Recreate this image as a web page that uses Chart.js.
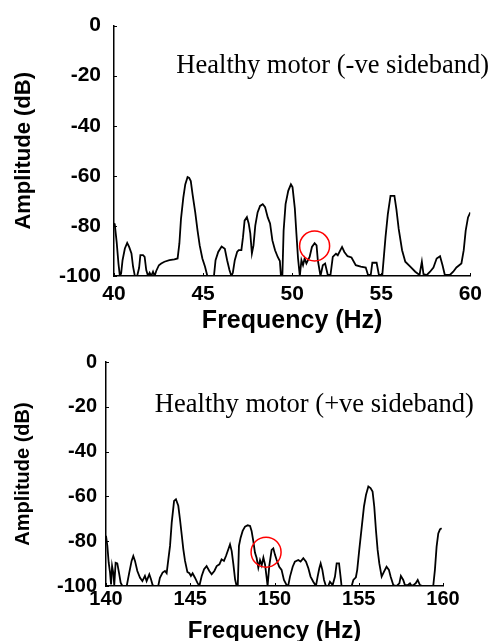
<!DOCTYPE html>
<html>
<head>
<meta charset="utf-8">
<script src="https://cdn.jsdelivr.net/npm/chart.js@4/dist/chart.umd.min.js"></script>
<style>
  html, body { margin: 0; padding: 0; background: #fff; overflow: hidden; }
  #wrap { position: relative; width: 488px; height: 641px; }
  .panel { position: absolute; left: 0; width: 488px; }
  canvas { display: block; }
</style>
</head>
<body>
<div id="wrap">
  <div class="panel" style="top:0;height:336px"><canvas id="negBand" width="488" height="336"></canvas></div>
  <div class="panel" style="top:336px;height:310px"><canvas id="posBand" width="488" height="310"></canvas></div>
</div>
<script>
// Lower sideband spectrum (40-60 Hz)
const negFreq = [40.00,40.04,40.15,40.25,40.33,40.40,40.48,40.61,40.74,40.85,40.98,41.07,41.17,41.30,41.41,41.48,41.63,41.72,41.81,41.91,
  42.00,42.09,42.19,42.28,42.37,42.52,42.65,42.83,43.11,43.39,43.57,43.67,43.76,43.89,44.00,44.13,44.22,44.31,44.41,44.56,
  44.69,44.81,44.96,45.11,45.24,45.61,45.70,45.85,46.04,46.22,46.35,46.48,46.59,46.67,46.78,46.91,47.00,47.15,47.24,47.33,
  47.46,47.56,47.65,47.74,47.83,47.93,48.06,48.20,48.35,48.48,48.63,48.76,48.89,49.04,49.19,49.31,49.37,49.45,49.52,49.63,
  49.78,49.93,50.02,50.15,50.24,50.33,50.43,50.52,50.61,50.70,50.80,50.89,50.98,51.11,51.26,51.37,51.44,51.59,51.72,51.85,
  52.00,52.15,52.28,52.46,52.56,52.80,52.93,53.11,53.33,53.57,53.85,54.13,54.26,54.41,54.50,54.74,54.87,55.06,55.24,55.37,
  55.52,55.74,55.85,55.98,56.17,56.35,56.63,56.91,57.15,57.28,57.37,57.56,57.74,57.93,58.11,58.30,58.44,58.57,58.85,59.04,
  59.22,59.50,59.63,59.74,59.87,60.00];
const negAmp = [-79,-79.2,-86.5,-95,-100,-99,-93.7,-89,-86.8,-88.4,-91,-96.3,-100,-100,-96.7,-91.7,-91.7,-92.4,-97.6,-100,
  -98.7,-100,-98.3,-100,-98,-95.7,-95,-94.3,-93.7,-93.4,-93,-87,-77.2,-68.7,-63.4,-60.5,-60.8,-62.1,-67.4,-74.6,
  -81.9,-87.8,-93,-96.3,-100,-100,-93.7,-90.4,-88.2,-89.1,-93.7,-97.6,-100,-98.7,-93.7,-90.4,-89.7,-89.7,-84.5,-77.9,
  -76.5,-79,-83,-91,-87.8,-79.9,-74.6,-72,-71.3,-72.5,-76.6,-79,-85.8,-89.7,-92.4,-94,-100,-100,-81.9,-71.3,
  -66,-63.4,-64.5,-73,-83.2,-93,-100,-93.7,-95.7,-93,-95,-93.7,-92.4,-88.4,-86.9,-87.8,-93.7,-100,-95.7,-95,
  -99.6,-99.6,-92.4,-91.1,-91.7,-88.4,-90.4,-92.1,-92.6,-95.7,-96.3,-96.6,-99.6,-99.6,-94.7,-94.7,-99.6,-99.6,-84.5,-75.3,
  -68,-68,-73.3,-81.2,-89.7,-94.3,-96.3,-98.3,-99.6,-94.3,-99.2,-99.6,-98.3,-96.6,-93,-92.1,-95.7,-99.6,-99.6,-98.3,
  -96.6,-95,-89.7,-81.9,-76.6,-74.6];

// Upper sideband spectrum (140-160 Hz)
const posFreq = [140.00,140.08,140.16,140.24,140.30,140.36,140.44,140.49,140.57,140.67,140.77,140.87,140.97,141.23,141.38,141.52,141.62,141.72,141.86,142.02,
  142.16,142.31,142.41,142.57,142.67,142.77,142.91,143.10,143.20,143.36,143.50,143.60,143.70,143.80,143.90,144.04,144.15,144.29,144.39,144.49,
  144.59,144.69,144.83,144.95,145.04,145.14,145.28,145.42,145.54,145.68,145.82,145.97,146.13,146.27,146.43,146.57,146.73,146.86,147.00,147.12,
  147.26,147.36,147.46,147.56,147.66,147.75,147.82,147.89,147.99,148.11,148.25,148.41,148.55,148.64,148.74,148.84,148.94,149.04,149.14,149.24,
  149.34,149.44,149.53,149.59,149.69,149.83,149.93,150.03,150.13,150.28,150.42,150.56,150.72,150.82,150.92,151.08,151.21,151.41,151.55,151.71,
  151.87,152.01,152.14,152.30,152.46,152.56,152.66,152.74,152.84,152.94,153.05,153.19,153.29,153.45,153.59,153.69,153.83,153.92,153.98,154.58,
  154.68,154.83,154.91,155.03,155.17,155.31,155.43,155.57,155.70,155.82,155.92,156.02,156.12,156.22,156.36,156.50,156.65,156.79,156.89,157.05,
  157.25,157.41,157.50,157.64,157.74,157.90,158.04,158.14,158.24,158.38,158.50,158.63,158.79,159.42,159.52,159.62,159.72,159.82,159.92];
const posAmp = [-77.6,-82.1,-89.6,-94,-99.3,-91.1,-94.5,-99.7,-89.6,-89.9,-94,-98.5,-100,-100,-94,-88.8,-86.6,-88.8,-93.3,-96.3,
  -97.8,-95.5,-97.8,-94.8,-97,-99.7,-100,-100,-96.3,-94,-93.3,-94.3,-88.1,-82.1,-71.7,-62,-61.3,-64.2,-70.2,-76.9,
  -83.6,-88.8,-93.7,-94.3,-95.5,-94.3,-96.3,-98.5,-100,-95.5,-92.5,-91.1,-93.3,-94.8,-93.3,-91.1,-90.3,-88.1,-88.8,-86.6,
  -83.6,-81.4,-84.4,-90.3,-97,-100,-100,-82.1,-78.4,-75.4,-73.5,-72.9,-73.2,-75.4,-79.9,-85.1,-87.5,-91.8,-88.5,-90.8,
  -87.3,-90.5,-96,-100,-91,-83.9,-83.2,-86.1,-88.4,-91.4,-92.8,-97.3,-99.6,-99.6,-95.8,-91.4,-89.1,-88.4,-89.1,-87.6,
  -89.1,-92.1,-95.8,-98.1,-100,-95.8,-92.1,-89.9,-92.8,-97.3,-100,-100,-98.1,-99.6,-95.8,-89.9,-89.9,-95.8,-100,-100,
  -97.3,-96.1,-92.8,-83.9,-74.2,-64.5,-59.3,-55.6,-56.3,-57.8,-64.5,-75,-83.9,-89.9,-95.8,-93.6,-91.4,-92.8,-95.8,-99.6,
  -100,-98.8,-95.5,-97.3,-99.6,-99.6,-98.8,-100,-99.6,-98.8,-97.3,-99.6,-100,-100,-92.8,-82.4,-76.5,-74.7,-74.2];

const ampTicks = [0, -20, -40, -60, -80, -100];
const negFreqTicks = [40, 45, 50, 55, 60];
const posFreqTicks = [140, 145, 150, 155, 160];

const negNote = 'Healthy motor (-ve sideband)';
const posNote = 'Healthy motor (+ve sideband)';
// [frequency, amplitude] where each caption starts, and where each marked peak sits
const negNoteAt = [43.5, -19.1];
const posNoteAt = [142.9, -22.1];
const negMark = [51.26, -88.0];
const posMark = [149.5, -84.9];

const SANS = '"Liberation Sans", Arial, Helvetica, sans-serif';
const SERIF = '"Liberation Serif", "Times New Roman", Times, serif';

// Inward tick marks, the caption and the red ring around the sideband peak
const decor = {
  id: 'decor',
  afterDatasetsDraw(chart, args, o) {
    const { ctx, chartArea: a, scales: { x, y } } = chart;
    ctx.save();
    ctx.strokeStyle = '#000';
    ctx.lineWidth = 1;
    ctx.beginPath();
    o.yTicks.forEach(v => { const py = Math.round(y.getPixelForValue(v)) + 0.5; ctx.moveTo(a.left, py); ctx.lineTo(a.left + 3, py); });
    o.xTicks.forEach(v => { const px = Math.round(x.getPixelForValue(v)) + 0.5; ctx.moveTo(px, a.bottom); ctx.lineTo(px, a.bottom - 3); });
    ctx.stroke();

    ctx.fillStyle = '#000';
    ctx.font = o.noteFont;
    ctx.textAlign = 'left';
    ctx.textBaseline = 'alphabetic';
    ctx.fillText(o.note, x.getPixelForValue(o.noteAt[0]), y.getPixelForValue(o.noteAt[1]));

    ctx.strokeStyle = '#ff0000';
    ctx.lineWidth = 1.5;
    ctx.beginPath();
    ctx.arc(x.getPixelForValue(o.mark[0]), y.getPixelForValue(o.mark[1]), o.ringR, 0, Math.PI * 2);
    ctx.stroke();
    ctx.restore();
  }
};

function spectrum(id, freq, amp, xTicks, L) {
  const pts = freq.map((f, i) => ({ x: f, y: amp[i] }));
  return new Chart(document.getElementById(id), {
    type: 'line',
    data: { datasets: [{ data: pts, borderColor: '#000', borderWidth: 1.8, pointRadius: 0, tension: 0, fill: false }] },
    options: {
      responsive: false,
      animation: false,
      events: [],
      layout: { padding: { left: 0, top: L.top, right: L.right, bottom: 0 } },
      plugins: {
        legend: { display: false },
        tooltip: { enabled: false },
        decor: L.decor
      },
      scales: {
        x: {
          type: 'linear',
          min: xTicks[0],
          max: xTicks[xTicks.length - 1],
          afterBuildTicks: s => { s.ticks = xTicks.map(v => ({ value: v })); },
          afterFit: s => { s.height = L.xHeight; },
          grid: { display: false, drawTicks: false },
          border: { display: true, color: '#000', width: 1.5 },
          ticks: { color: '#000', padding: L.xPad, maxRotation: 0, font: { family: SANS, weight: 'bold', size: L.tickSize } },
          title: { display: true, text: 'Frequency (Hz)', color: '#000', padding: { top: 0, bottom: 0 },
                   font: { family: SANS, weight: 'bold', size: L.xTitleSize } }
        },
        y: {
          type: 'linear',
          min: -100,
          max: 0,
          afterBuildTicks: s => { s.ticks = ampTicks.map(v => ({ value: v })); },
          afterFit: s => { s.width = L.yWidth; },
          grid: { display: false, drawTicks: false },
          border: { display: true, color: '#000', width: 1.5 },
          ticks: { color: '#000', padding: L.yPad, font: { family: SANS, weight: 'bold', size: L.tickSize } },
          title: { display: true, text: 'Amplitude (dB)', color: '#000', padding: { top: L.yTitlePad, bottom: 0 },
                   font: { family: SANS, weight: 'bold', size: L.yTitleSize } }
        }
      }
    },
    plugins: [decor]
  });
}

spectrum('negBand', negFreq, negAmp, negFreqTicks, {
  top: 22, right: 13, xHeight: 60, yWidth: 114, xPad: 6, yPad: 13,
  tickSize: 21, xTitleSize: 25, yTitleSize: 22, yTitlePad: 11,
  decor: { yTicks: ampTicks, xTicks: negFreqTicks, note: negNote, noteAt: negNoteAt,
           noteFont: '26.5px ' + SERIF, mark: negMark, ringR: 15 }
});

spectrum('posBand', posFreq, posAmp, posFreqTicks, {
  top: 26, right: 45, xHeight: 60, yWidth: 106, xPad: 1, yPad: 9,
  tickSize: 20, xTitleSize: 24, yTitleSize: 20, yTitlePad: 11,
  decor: { yTicks: ampTicks, xTicks: posFreqTicks, note: posNote, noteAt: posNoteAt,
           noteFont: '26.5px ' + SERIF, mark: posMark, ringR: 15 }
});
</script>
</body>
</html>
